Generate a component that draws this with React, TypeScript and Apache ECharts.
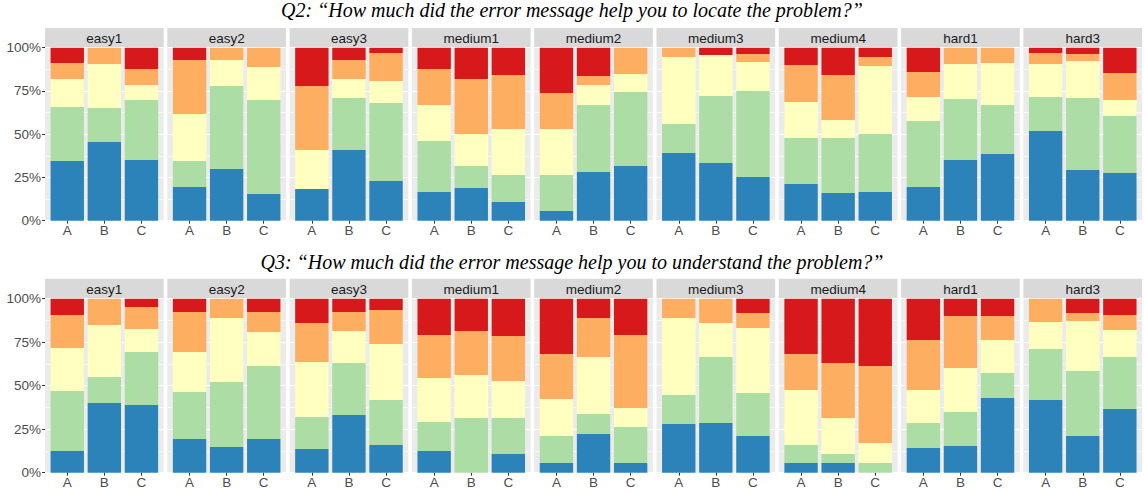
import React, { useEffect, useRef } from "react";
import * as echarts from "echarts";

// ---------- data ----------
const tasks = ["easy1", "easy2", "easy3", "medium1", "medium2", "medium3", "medium4", "hard1", "hard3"];
const conditions = ["A", "B", "C"];
const yTicks = [0, 25, 50, 75, 100];
const titles = [
  "Q2: \u201CHow much did the error message help you to locate the problem?\u201D",
  "Q3: \u201CHow much did the error message help you to understand the problem?\u201D",
];
const levelColors = ["#2B83BA", "#ABDDA4", "#FFFFBF", "#FDAE61", "#D7191C"];

// Q2 — percentage per answer level, per task as [A, B, C]
const q2Blue = [[34.5, 45.5, 35.1], [19.5, 29.9, 15.4], [18.3, 40.8, 22.9], [16.6, 18.9, 10.8], [5.6, 28.1, 31.6], [39.1, 33.3, 25.2], [21.2, 16.0, 16.6], [19.5, 35.1, 38.5], [51.8, 29.3, 27.6]];
const q2Green = [[31.2, 19.6, 34.6], [15.0, 47.9, 54.3], [0, 30.1, 45.1], [29.5, 12.7, 15.6], [20.8, 38.8, 42.8], [16.8, 38.8, 49.8], [26.6, 31.8, 33.5], [38.1, 35.2, 28.4], [19.7, 41.6, 32.9]];
const q2Yellow = [[16.2, 25.5, 8.7], [27.2, 15.1, 19.1], [22.5, 11.0, 12.7], [20.8, 18.5, 26.6], [26.6, 11.5, 10.4], [38.7, 23.7, 16.7], [20.8, 10.4, 39.3], [13.9, 20.3, 24.2], [19.1, 21.4, 9.2]];
const q2Orange = [[9.2, 9.4, 9.3], [31.2, 7.1, 11.2], [37.0, 11.0, 16.2], [20.8, 31.8, 31.2], [20.8, 5.2, 15.2], [5.4, 0, 4.6], [21.4, 26.0, 5.2], [14.4, 9.4, 8.9], [6.3, 4.0, 15.7]];
const q2Red = [[8.9, 0, 12.3], [7.1, 0, 0], [22.2, 7.1, 3.1], [12.3, 18.1, 15.8], [26.2, 16.4, 0], [0, 4.2, 3.7], [10.0, 15.8, 5.4], [14.1, 0, 0], [3.1, 3.7, 14.6]];

// Q3
const q3Blue = [[12.5, 40.0, 38.9], [19.3, 14.8, 19.3], [13.6, 33.1, 15.9], [12.5, 0, 10.7], [5.6, 22.2, 5.6], [28.0, 28.5, 21.1], [5.6, 5.6, 0], [14.2, 15.3, 42.9], [41.8, 21.1, 36.6]];
const q3Green = [[34.4, 15.0, 30.4], [27.1, 37.3, 42.0], [18.4, 29.9, 25.9], [16.6, 31.4, 20.7], [15.5, 11.5, 20.6], [16.6, 38.0, 24.7], [10.3, 5.1, 5.6], [14.3, 19.6, 14.4], [29.3, 37.3, 29.9]];
const q3Yellow = [[24.7, 29.9, 13.3], [22.9, 36.8, 19.5], [31.6, 18.4, 32.1], [25.3, 24.7, 21.3], [21.2, 32.8, 11.0], [44.3, 19.5, 37.3], [31.6, 20.7, 11.4], [19.0, 25.3, 18.9], [15.5, 28.8, 15.5]];
const q3Orange = [[19.0, 15.1, 12.6], [23.0, 11.1, 11.5], [22.4, 10.9, 19.6], [24.7, 25.3, 25.8], [25.9, 22.4, 41.9], [11.1, 14.0, 8.7], [20.7, 31.6, 44.3], [28.7, 29.8, 13.8], [13.4, 4.6, 8.6]];
const q3Red = [[9.4, 0, 4.8], [7.7, 0, 7.7], [14.0, 7.7, 6.5], [20.9, 18.6, 21.5], [31.8, 11.1, 20.9], [0, 0, 8.2], [31.8, 37.0, 38.7], [23.8, 10.0, 10.0], [0, 8.2, 9.4]];

const questions = [
  [q2Blue, q2Green, q2Yellow, q2Orange, q2Red],
  [q3Blue, q3Green, q3Yellow, q3Orange, q3Red],
];

// ---------- layout ----------
const PANEL_LEFT = 45;
const PANEL_STEP = 122.3;
const PANEL_W = 118.7;
const STRIP_H = 19.7;
const ROWS = [
  { titleY: 10, stripTop: 28, panelTop: 47.7, panelH: 173 },
  { titleY: 262, stripTop: 278.7, panelTop: 298.7, panelH: 174 },
];
const UNIT = PANEL_W / 3.2;
const INSET = 0.1 * UNIT;
const SANS = "'Liberation Sans', Arial, sans-serif";

function buildOption() {
  const grid: any[] = [];
  const xAxis: any[] = [];
  const yAxis: any[] = [];
  const series: any[] = [];
  const graphic: any[] = [];

  ROWS.forEach((row, r) => {
    graphic.push({
      type: "text",
      x: 572,
      y: row.titleY,
      style: {
        text: titles[r],
        fontFamily: "'Liberation Serif', 'DejaVu Serif', serif",
        fontStyle: "italic",
        fontSize: 20,
        fill: "#000",
        align: "center",
        verticalAlign: "middle",
      },
    });
    tasks.forEach((task, p) => {
      const left = PANEL_LEFT + p * PANEL_STEP;
      // strip
      graphic.push({
        type: "rect",
        shape: { x: left, y: row.stripTop, width: PANEL_W, height: STRIP_H },
        style: { fill: "#D9D9D9" },
      });
      graphic.push({
        type: "text",
        x: left + PANEL_W / 2,
        y: row.stripTop + STRIP_H / 2 + 0.5,
        style: {
          text: task,
          fontFamily: SANS,
          fontSize: 13.5,
          fill: "#1A1A1A",
          align: "center",
          verticalAlign: "middle",
        },
      });

      // background grid (panel + gridlines + y axis)
      const bgIndex = grid.length;
      grid.push({
        left,
        top: row.panelTop,
        width: PANEL_W,
        height: row.panelH,
        show: true,
        backgroundColor: "#EBEBEB",
        borderWidth: 0,
        containLabel: false,
      });
      xAxis.push({ type: "value", gridIndex: bgIndex, show: false, min: 0, max: 1 });
      yAxis.push({
        type: "value",
        gridIndex: bgIndex,
        min: yTicks[0],
        max: yTicks[yTicks.length - 1],
        interval: yTicks[1] - yTicks[0],
        axisLine: { show: false },
        axisTick: { show: p === 0, length: 3, lineStyle: { color: "#333333", width: 1 } },
        axisLabel: {
          show: p === 0,
          formatter: "{value}%",
          color: "#4D4D4D",
          fontSize: 13.5,
          fontFamily: SANS,
          margin: 4,
        },
        splitLine: { show: true, lineStyle: { color: "#FFFFFF", width: 1.1 } },
        minorTick: { show: false, splitNumber: 2 },
        minorSplitLine: { show: true, lineStyle: { color: "#FFFFFF", width: 0.55 } },
        z: 0,
      });

      // bar grid
      const barIndex = grid.length;
      grid.push({
        left: left + INSET,
        top: row.panelTop,
        width: PANEL_W - 2 * INSET,
        height: row.panelH,
        show: false,
        containLabel: false,
      });
      xAxis.push({
        type: "category",
        gridIndex: barIndex,
        data: conditions,
        axisLine: { show: false },
        axisTick: { show: true, alignWithLabel: true, length: 3, lineStyle: { color: "#333333" } },
        axisLabel: { color: "#4D4D4D", fontSize: 13.5, fontFamily: SANS, margin: 3 },
        splitLine: { show: false },
      });
      yAxis.push({
        type: "value",
        gridIndex: barIndex,
        min: 0,
        max: 100,
        show: false,
        splitLine: { show: false },
      });
      questions[r].forEach((level, k) => {
        series.push({
          type: "bar",
          name: `level${k + 1}`,
          xAxisIndex: barIndex,
          yAxisIndex: barIndex,
          stack: `s${r}_${p}`,
          barWidth: "90%",
          data: level[p],
          itemStyle: { color: levelColors[k] },
          emphasis: { disabled: true },
          z: 3,
        });
      });
    });
  });

  return {
    animation: false,
    backgroundColor: "#FFFFFF",
    textStyle: { fontFamily: SANS },
    grid,
    xAxis,
    yAxis,
    series,
    graphic,
    tooltip: { show: false },
  };
}

export default function App() {
  const ref = useRef<HTMLDivElement>(null);
  useEffect(() => {
    document.body.style.margin = "0";
    if (!ref.current) return;
    const chart = echarts.init(ref.current, undefined, { renderer: "svg" });
    chart.setOption(buildOption() as any);
    return () => chart.dispose();
  }, []);
  return <div ref={ref} style={{ width: 1144, height: 493, background: "#fff" }} />;
}
